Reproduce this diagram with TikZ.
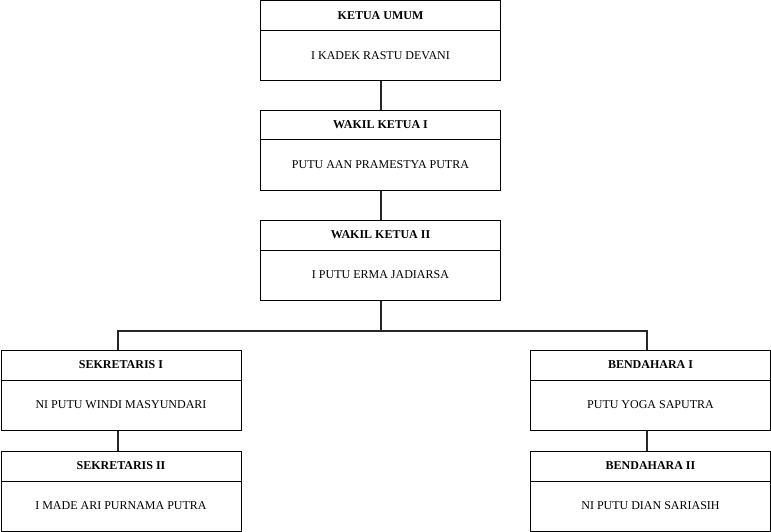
\documentclass[tikz,border=0pt]{standalone}
\usepackage{fontspec}
\setmainfont{Liberation Serif}
\begin{document}
\begin{tikzpicture}[x=1pt,y=-1pt,
  box/.style={draw=black, line width=1pt, minimum width=240pt, minimum height=80pt, inner sep=0pt, anchor=north west},
  divider/.style={draw=black, line width=1pt},
  ttl/.style={font=\fontsize{12}{14}\selectfont\bfseries, inner sep=0pt},
  person/.style={font=\fontsize{12}{14}\selectfont, inner sep=0pt},
  conn/.style={draw=black!85, line width=2pt}]
\useasboundingbox (0,0) rectangle (771,532);
\newcommand{\orgbox}[5]{%
  \node[box] (#1) at (#2,#3) {};
  \draw[divider] ([yshift=-30pt]#1.north west) -- ([yshift=-30pt]#1.north east);
  \node[ttl] (#1t) at ([yshift=-15pt]#1.north) {#4};
  \node[person] (#1n) at ([yshift=-55pt]#1.north) {#5};
}
\orgbox{k1}{260}{0.5}{KETUA UMUM}{I KADEK RASTU DEVANI}
\orgbox{k2}{260}{110}{WAKIL KETUA I}{PUTU AAN PRAMESTYA PUTRA}
\orgbox{k3}{260}{220}{WAKIL KETUA II}{I PUTU ERMA JADIARSA}
\orgbox{s1}{0.5}{350}{SEKRETARIS I}{NI PUTU WINDI MASYUNDARI}
\orgbox{s2}{0.5}{451}{SEKRETARIS II}{I MADE ARI PURNAMA PUTRA}
\orgbox{b1}{530}{350}{BENDAHARA I}{PUTU YOGA SAPUTRA}
\orgbox{b2}{530}{451}{BENDAHARA II}{NI PUTU DIAN SARIASIH}
\draw[conn] (k1.south) -- (k2.north);
\draw[conn] (k2.south) -- (k3.north);
\draw[conn] (k3.south) -- ++(0,30) coordinate (j);
\draw[conn] (j) -| ([xshift=-3pt]s1.north);
\draw[conn] (j) -| ([xshift=-4pt]b1.north);
\draw[conn] ([xshift=-3pt]s1.south) -- ([xshift=-3pt]s2.north);
\draw[conn] ([xshift=-4pt]b1.south) -- ([xshift=-4pt]b2.north);
\end{tikzpicture}
\end{document}
